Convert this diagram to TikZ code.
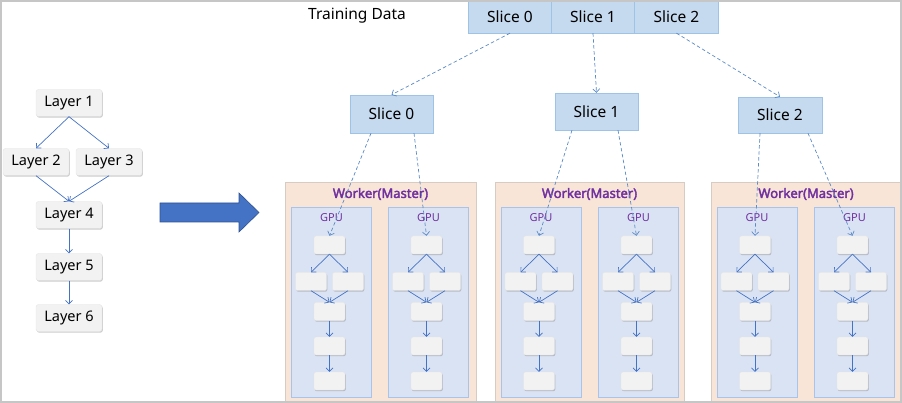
\documentclass[tikz,border=0pt]{standalone}
\usepackage{fontspec}
\setmainfont{Noto Sans}
\newfontfamily\masterfont{Noto Sans}[FakeBold=2.6]
\usetikzlibrary{arrows.meta,shadows}

\definecolor{slicefill}{HTML}{C5D9EF}
\definecolor{sliceline}{HTML}{9DC3E6}
\definecolor{workerfill}{HTML}{F8E5D8}
\definecolor{workerline}{HTML}{D6CCC4}
\definecolor{gpufill}{HTML}{DAE3F3}
\definecolor{gpuline}{HTML}{A9C4EB}
\definecolor{cellfill}{HTML}{F2F2F2}
\definecolor{flowblue}{HTML}{4472C4}
\definecolor{dashblue}{HTML}{5B8AC6}
\definecolor{darkblue}{HTML}{2F528F}
\definecolor{masterpurple}{HTML}{7030A0}

\tikzset{
  layerbox/.style={draw=gray!20, fill=cellfill, rounded corners=2.5pt,
    minimum width=66pt, minimum height=27pt, inner sep=0pt,
    font=\fontsize{14.5}{16}\selectfont,
    drop shadow={shadow xshift=0.8pt, shadow yshift=-1.2pt, opacity=0.4, fill=gray}},
  cellbox/.style={layerbox, minimum width=31pt, minimum height=18pt, rounded corners=2pt},
  slicebox/.style={draw=sliceline, fill=slicefill, inner sep=0pt,
    minimum width=84pt, font=\fontsize{15.5}{17}\selectfont},
  workerbox/.style={draw=workerline, fill=workerfill, inner sep=0pt,
    minimum height=219pt},
  gpubox/.style={draw=gpuline, fill=gpufill, inner sep=0pt,
    minimum width=80pt, minimum height=190pt},
  gputext/.style={text=masterpurple, font=\fontsize{11}{12}\selectfont},
  workertitle/.style={text=masterpurple, font=\masterfont\fontsize{13}{15}\selectfont},
  flow/.style={draw=flowblue, line width=0.7pt, ->},
  feed/.style={draw=dashblue, line width=0.7pt, dash pattern=on 3.5pt off 2.5pt, ->},
}

\begin{document}
\begin{tikzpicture}[x=1pt, y=-1pt, >={Straight Barb[length=3.5pt,width=7pt]}]
\useasboundingbox (0,0) rectangle (902,403);

% layers of the model
\node[layerbox] (l1) at (69,103) {Layer 1};
\node[layerbox] (l2) at (36,162) {Layer 2};
\node[layerbox] (l3) at (109,162) {Layer 3};
\node[layerbox] (l4) at (69,215) {Layer 4};
\node[layerbox] (l5) at (69,267) {Layer 5};
\node[layerbox] (l6) at (69,318) {Layer 6};
\draw[flow] (l1.south) -- (l2.north);
\draw[flow] (l1.south) -- (l3.north);
\draw[flow] (l2.south) -- (l4.north);
\draw[flow] (l3.south) -- (l4.north);
\draw[flow] (l4) -- (l5);
\draw[flow] (l5) -- (l6);

% big arrow
\filldraw[fill=flowblue, draw=darkblue, line width=0.6pt]
  (160,203) -- (239,203) -- (239,193) -- (259,212.5) -- (239,232) -- (239,222) -- (160,222) -- cycle;

% workers
\node[workerbox, minimum width=191pt] (w1) at (380.5,291.5) {};
\node[workerbox, minimum width=189pt] (w2) at (589.5,291.5) {};
\node[workerbox, minimum width=190pt] (w3) at (806,291.5) {};
\node[workertitle] (t1) at (380.5,194) {Worker(Master)};
\node[workertitle] (t2) at (589.5,194) {Worker(Master)};
\node[workertitle] (t3) at (806,194) {Worker(Master)};

\foreach \g/\gx in {1/331.5, 2/428.5, 3/541, 4/638.5, 5/757, 6/854.5} {
  \node[gpubox] (gpu\g) at (\gx,302) {};
  \node[gputext] (gl\g) at (\gx,218) {GPU};
}

% copy of the model on each gpu
\foreach \g/\cx in {1/329.5, 2/426.5, 3/539, 4/636.5, 5/755, 6/852.5} {
  \node[cellbox] (c\g-1) at (\cx,245) {};
  \node[cellbox] (c\g-2) at ({\cx-18.5},281.5) {};
  \node[cellbox] (c\g-3) at ({\cx+18.5},281.5) {};
  \node[cellbox] (c\g-4) at (\cx,311.5) {};
  \node[cellbox] (c\g-5) at (\cx,346) {};
  \node[cellbox] (c\g-6) at (\cx,381) {};
  \draw[flow] (c\g-1.south) -- (c\g-2.north);
  \draw[flow] (c\g-1.south) -- (c\g-3.north);
  \draw[flow] (c\g-2.south) -- (c\g-4.north);
  \draw[flow] (c\g-3.south) -- (c\g-4.north);
  \draw[flow] (c\g-4) -- (c\g-5);
  \draw[flow] (c\g-5) -- (c\g-6);
}

% training data
\node[font=\fontsize{15.5}{17}\selectfont] (td) at (357,16) {Training Data};
\node[slicebox, minimum height=33pt] (ts0) at (510,16.5) {Slice 0};
\node[slicebox, minimum height=33pt] (ts1) at (593,16.5) {Slice 1};
\node[slicebox, minimum height=33pt] (ts2) at (676.5,16.5) {Slice 2};

\node[slicebox, minimum width=83pt, minimum height=38pt] (ms0) at (391.5,114) {Slice 0};
\node[slicebox, minimum width=83pt, minimum height=37pt] (ms1) at (596.5,111.5) {Slice 1};
\node[slicebox, minimum height=36pt] (ms2) at (780,115) {Slice 2};

\draw[feed] (ts0.south) -- (ms0.north);
\draw[feed] (ts1.south) -- (ms1.north);
\draw[feed] (ts2.south) -- (ms2.north);

\draw[feed] ([xshift=-20.5pt]ms0.south) -- (c1-1.north);
\draw[feed] ([xshift=22.5pt]ms0.south) -- (c2-1.north);
\draw[feed] ([xshift=-24.5pt]ms1.south) -- (c3-1.north);
\draw[feed] ([xshift=21.5pt]ms1.south) -- (c4-1.north);
\draw[feed] ([xshift=-20pt]ms2.south) -- (c5-1.north);
\draw[feed] ([xshift=28pt]ms2.south) -- (c6-1.north);

% frame
\draw[draw=gray!45, line width=1.6pt] (0.8,0.8) rectangle (901.2,401.8);

\end{tikzpicture}
\end{document}
